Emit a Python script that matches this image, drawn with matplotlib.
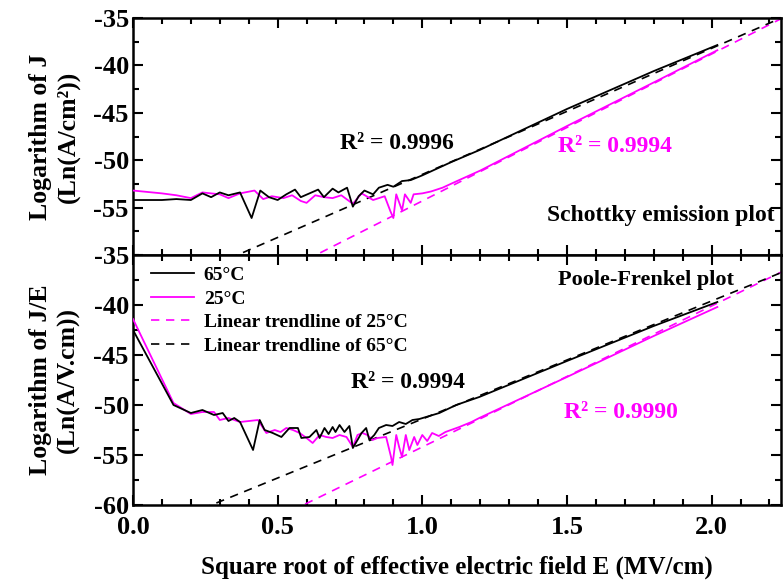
import matplotlib
matplotlib.use("Agg")
import matplotlib.pyplot as plt
from matplotlib.ticker import MultipleLocator
import numpy as np

plt.rcParams['font.family'] = ['Liberation Serif', 'DejaVu Serif']
plt.rcParams['font.weight'] = 'bold'
plt.rcParams['axes.unicode_minus'] = False

MAG = '#FF00FF'

# ---------------- Schottky (top) ----------------
sch_x_65 = [0.00, 0.05, 0.10, 0.15, 0.20, 0.24, 0.27, 0.30, 0.33, 0.37, 0.41, 0.44, 0.47, 0.50,
            0.53, 0.56, 0.58, 0.61, 0.64, 0.66, 0.69, 0.71, 0.74, 0.76, 0.78, 0.80, 0.83, 0.85,
            0.88, 0.90, 0.93, 0.96, 1.00, 1.10, 1.20, 1.50, 1.80, 2.02]
sch_y_65 = [-54.2, -54.2, -54.2, -54.1, -54.2, -53.5, -53.9, -53.4, -53.7, -53.4, -56.1, -53.2, -53.9, -54.2,
            -53.6, -53.1, -53.9, -53.5, -53.1, -53.9, -53.0, -53.4, -52.9, -54.9, -53.8, -53.2, -53.6, -52.9,
            -52.6, -52.8, -52.2, -52.1, -51.6, -50.2, -48.9, -44.6, -40.6, -37.85]

sch_x_25 = [0.00, 0.10, 0.15, 0.20, 0.24, 0.27, 0.30, 0.33, 0.37, 0.42, 0.45, 0.48, 0.52, 0.55,
            0.58, 0.60, 0.63, 0.66, 0.69, 0.72, 0.76, 0.79, 0.83, 0.87, 0.89, 0.90, 0.91, 0.93,
            0.94, 0.96, 0.97, 1.00, 1.03, 1.07, 1.12, 1.20, 1.50, 1.80, 2.02]
sch_y_25 = [-53.2, -53.5, -53.7, -54.0, -53.4, -53.5, -53.6, -54.0, -53.5, -53.2, -54.1, -53.8, -54.0, -53.7,
            -54.3, -54.5, -53.7, -53.9, -54.0, -53.7, -54.6, -53.5, -54.2, -53.8, -55.4, -56.1, -53.6, -55.3,
            -53.6, -54.5, -53.6, -53.5, -53.3, -52.9, -52.2, -51.1, -46.4, -41.8, -38.4]

# linear trendlines: (intercept, slope)
sch_trend_65 = (-64.8, 13.3)
sch_trend_25 = (-69.8, 15.5)

# ---------------- Poole-Frenkel (bottom) ----------------
pf_x_65 = [0.00, 0.14, 0.20, 0.24, 0.28, 0.31, 0.33, 0.35, 0.37, 0.415, 0.438, 0.455, 0.483, 0.513,
           0.541, 0.570, 0.582, 0.610, 0.634, 0.645, 0.662, 0.676, 0.690, 0.700, 0.714, 0.731, 0.748,
           0.760, 0.772, 0.790, 0.806, 0.817, 0.834, 0.850, 0.875, 0.897, 0.920, 0.943, 0.966, 0.990,
           1.013, 1.059, 1.117, 1.197, 1.50, 1.80, 2.02]
pf_y_65 = [-42.5, -50.0, -50.8, -50.5, -51.0, -50.8, -51.6, -51.3, -51.7, -54.5, -51.5, -52.5, -52.8, -53.2,
           -52.3, -52.3, -53.3, -53.2, -52.5, -53.3, -52.3, -52.9, -52.2, -52.7, -52.0, -52.7, -52.1,
           -54.3, -53.7, -52.8, -52.3, -53.5, -53.0, -52.3, -52.0, -52.1, -51.7, -51.9, -51.5, -51.4,
           -51.2, -50.8, -50.0, -49.2, -45.6, -42.1, -39.7]

pf_x_25 = [0.00, 0.14, 0.20, 0.24, 0.28, 0.30, 0.33, 0.37, 0.432, 0.461, 0.490, 0.510, 0.530, 0.553,
           0.576, 0.600, 0.621, 0.645, 0.668, 0.690, 0.714, 0.738, 0.760, 0.776, 0.793, 0.810, 0.828,
           0.845, 0.875, 0.892, 0.897, 0.910, 0.920, 0.930, 0.943, 0.955, 0.972, 0.983, 1.000, 1.017,
           1.034, 1.057, 1.080, 1.128, 1.170, 1.197, 1.50, 1.80, 2.02]
pf_y_25 = [-41.4, -49.8, -50.9, -50.7, -50.7, -51.5, -51.3, -51.7, -51.5, -52.8, -52.5, -52.7, -52.3, -52.5,
           -52.8, -53.3, -53.8, -53.0, -53.2, -53.3, -53.0, -53.2, -54.2, -53.0, -52.8, -53.0, -53.5,
           -53.3, -53.2, -55.2, -56.0, -53.0, -54.2, -55.2, -53.0, -54.5, -53.2, -54.0, -53.0, -53.6,
           -52.8, -53.1, -52.7, -52.2, -51.7, -51.3, -47.2, -43.1, -40.2]

pf_trend_65 = (-63.2, 11.8)
pf_trend_25 = (-68.3, 14.1)

xticks = [0.0, 0.5, 1.0, 1.5, 2.0]
xticklabels = ['0.0', '0.5', '1.0', '1.5', '2.0']
sch_yticks = [-55, -50, -45, -40, -35]
pf_yticks = [-60, -55, -50, -45, -40, -35]

W, H = 783, 582
fig = plt.figure(figsize=(W / 100, H / 100), dpi=100)
L, R = 133 / W, 781 / W
ax1 = fig.add_axes([L, 1 - 255 / H, R - L, (255 - 18) / H])
ax2 = fig.add_axes([L, 1 - 505 / H, R - L, (505 - 255) / H], sharex=ax1)

XMAX = 2.24
xt = np.array([0.0, XMAX])
TICKFS = 19

def style(ax, yticks, ylim):
    ax.set_xlim(0, XMAX)
    ax.set_ylim(*ylim)
    ax.set_yticks(yticks)
    ax.set_yticklabels([str(v) for v in yticks], fontsize=TICKFS, fontweight='bold')
    ax.yaxis.set_minor_locator(MultipleLocator(2.5))
    ax.xaxis.set_minor_locator(MultipleLocator(0.1))
    ax.tick_params(which='both', direction='in', top=True, right=True, width=1.5)
    ax.tick_params(which='major', length=7)
    ax.tick_params(which='minor', length=4)
    ax.tick_params(axis='y', pad=3)
    for s in ax.spines.values():
        s.set_linewidth(1.8)

dash = (0, (5, 4))

# top panel
for (a, b), c in [(sch_trend_25, MAG), (sch_trend_65, 'k')]:
    ax1.plot(xt, a + b * xt, color=c, lw=1.2, linestyle=dash, zorder=2)
ax1.plot(sch_x_25, sch_y_25, color=MAG, lw=1.3, zorder=3)
ax1.plot(sch_x_65, sch_y_65, color='k', lw=1.3, zorder=4)
style(ax1, sch_yticks, (-60, -35))
ax1.set_xticks(xticks)
ax1.tick_params(axis='x', labelbottom=False)
ax1.text(0.714, -48.2, 'R² = 0.9996', color='k', fontsize=17, fontweight='bold', va='center')
ax1.text(1.47, -48.6, 'R² = 0.9994', color=MAG, fontsize=17, fontweight='bold', va='center')
ax1.text(1.43, -55.8, 'Schottky emission plot', color='k', fontsize=17, fontweight='bold',
         va='center', clip_on=False)
ax1.set_ylabel('Logarithm of J\n(Ln(A/cm²))', fontsize=18.5, fontweight='bold', labelpad=10,
               linespacing=1.25)

# bottom panel
h65, = ax2.plot(pf_x_65, pf_y_65, color='k', lw=1.3, zorder=4, label='65°C')
h25, = ax2.plot(pf_x_25, pf_y_25, color=MAG, lw=1.3, zorder=3, label='25°C')
t25, = ax2.plot(xt, pf_trend_25[0] + pf_trend_25[1] * xt, color=MAG, lw=1.2, linestyle=dash,
                zorder=2, label='Linear trendline of 25°C')
t65, = ax2.plot(xt, pf_trend_65[0] + pf_trend_65[1] * xt, color='k', lw=1.2, linestyle=dash,
                zorder=2, label='Linear trendline of 65°C')
style(ax2, pf_yticks, (-60, -35))
ax2.set_xticks(xticks)
ax2.set_xticklabels(xticklabels, fontsize=TICKFS, fontweight='bold')
ax2.tick_params(axis='x', pad=8)
ax2.text(0.755, -47.8, 'R² = 0.9994', color='k', fontsize=17, fontweight='bold', va='center')
ax2.text(1.49, -50.7, 'R² = 0.9990', color=MAG, fontsize=17, fontweight='bold', va='center')
ax2.text(1.47, -37.5, 'Poole-Frenkel plot', color='k', fontsize=16, fontweight='bold', va='center')
ax2.set_ylabel('Logarithm of J/E\n(Ln(A/V.cm))', fontsize=18.5, fontweight='bold', labelpad=10,
               linespacing=1.25)
ax2.set_xlabel('Square root of effective electric field E (MV/cm)', fontsize=18,
               fontweight='bold', labelpad=12)
leg = ax2.legend(handles=[h65, h25, t25, t65], loc='upper left', frameon=False,
                 prop={'weight': 'bold', 'size': 14}, handlelength=2.2, handletextpad=0.5,
                 labelspacing=0.3, borderaxespad=0.2, bbox_to_anchor=(0.01, 1.0))

fig.align_ylabels([ax1, ax2])
fig.savefig('out.png', dpi=100)
